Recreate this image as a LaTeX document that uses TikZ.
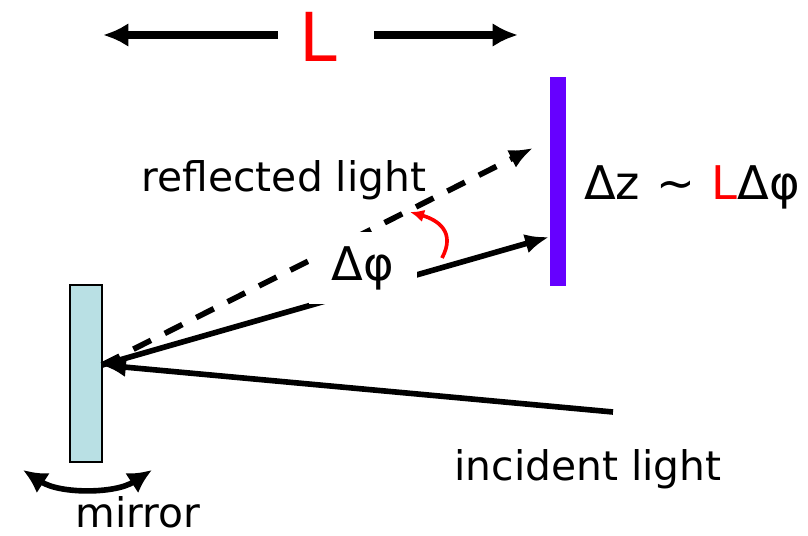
\documentclass[tikz,border=0pt]{standalone}
\usepackage{fontspec}
\setmainfont{DejaVu Sans}
\usepackage{xcolor}
\usetikzlibrary{arrows.meta,positioning}
\definecolor{mirrorblue}{RGB}{185,224,228}
\definecolor{screenviolet}{RGB}{102,0,255}

\begin{document}
\begin{tikzpicture}[x=0.025cm,y=-0.025cm,>=Latex,
  lbl/.style={font=\fontsize{29}{34}\selectfont,inner sep=1pt},
  big/.style={font=\fontsize{33}{38}\selectfont,inner sep=1pt},
  ray/.style={line width=4pt,-{Latex[length=17pt,width=14pt]}},
  dim/.style={line width=5.5pt,-{Latex[length=18pt,width=17pt]}}]
  \useasboundingbox (0,0) rectangle (808,536);
  % length L over the top
  \node[red,font=\fontsize{48}{52}\selectfont,inner sep=0pt] (Lmark) at (318,37) {L};
  \coordinate (lgapl) at (278,35);
  \coordinate (lgapr) at (374,35);
  \coordinate (lend) at (103,35);
  \coordinate (rend) at (518,35);
  \draw[dim] (lgapl) -- (lend);
  \draw[dim] (lgapr) -- (rend);
  % mirror and screen
  \node[draw,line width=1.2pt,fill=mirrorblue,minimum width=0.8cm,minimum height=4.425cm,inner sep=0pt] (mirror) at (86,373.5) {};
  \node[fill=screenviolet,minimum width=0.4cm,minimum height=5.225cm,inner sep=0pt] (screen) at (558,181.5) {};
  \coordinate (hit) at (102,365);
  \coordinate (inc) at (613,412);
  \coordinate (spot) at (549,237);
  \coordinate (dashend) at (533,148);
  % rays
  \draw[ray] (inc) -- (hit);
  \draw[ray,dash pattern=on 14pt off 11pt] (hit) -- (dashend);
  \draw[ray] (hit) -- (spot);
  \node[big,fill=white,minimum width=2.675cm,minimum height=1.8cm] (dphi) at (363,268) {Δφ};
  \draw[red,line width=2.6pt,-{Latex[length=10pt,width=9pt]}] (442,258) .. controls (456,232) and (438,220) .. (410,212);
  % mirror tilt
  \coordinate (tiltl) at (23,470);
  \coordinate (tiltr) at (152,470);
  \draw[line width=4pt,{Latex[length=17pt,width=17pt]}-{Latex[length=17pt,width=17pt]}] (tiltl) .. controls (60,494) and (115,494) .. (tiltr);
  % labels
  \node[lbl] (refl) at (284,180) {reflected light};
  \node[lbl] (incl) at (588,469) {incident light};
  \node[lbl,anchor=base,inner sep=0pt] (mirl) at (138,527) {mirror};
  \node[big] (shift) at (692,187) {Δz\hspace{0.35em}\textasciitilde\hspace{0.35em}\textcolor{red}{L}Δφ};
\end{tikzpicture}
\end{document}
